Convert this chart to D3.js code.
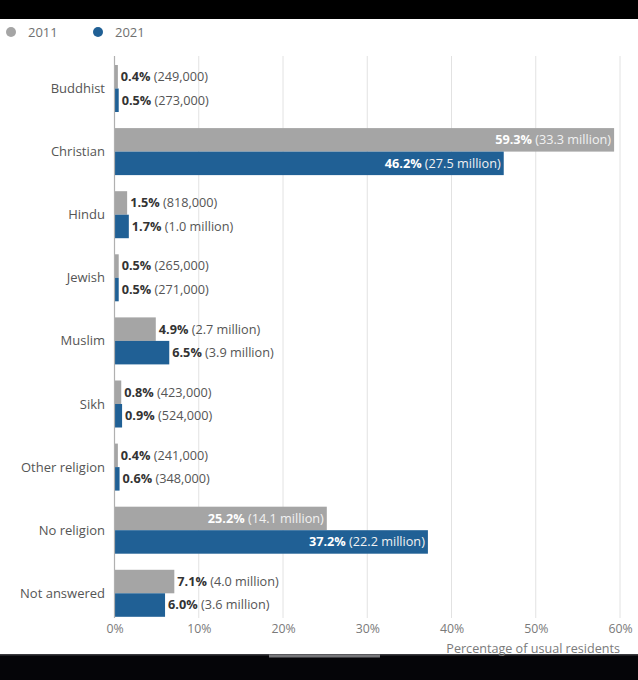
<!DOCTYPE html>
<html><head><meta charset="utf-8">
<script src="https://cdn.jsdelivr.net/npm/d3@7"></script>
<style>
html,body{margin:0;padding:0;background:#fff;}
svg{display:block;font-family:"Open Sans",sans-serif;}
</style></head>
<body>
<svg id="c" width="638" height="680"></svg>
<script>
const categories = ["Buddhist","Christian","Hindu","Jewish","Muslim","Sikh","Other religion","No religion","Not answered"];
const seriesNames = ["2011","2021"];
const values2011 = [0.4,59.3,1.5,0.5,4.9,0.8,0.4,25.2,7.1];
const values2021 = [0.5,46.2,1.7,0.5,6.5,0.9,0.6,37.2,6.0];
const counts2011 = ["249,000","33.3 million","818,000","265,000","2.7 million","423,000","241,000","14.1 million","4.0 million"];
const counts2021 = ["273,000","27.5 million","1.0 million","271,000","3.9 million","524,000","348,000","22.2 million","3.6 million"];
const xTicks = [0,10,20,30,40,50,60];
const colors = ["#a5a5a5","#206095"];

const svg = d3.select("#c");
// frame bands
svg.append("rect").attr("x",0).attr("y",0).attr("width",638).attr("height",19).attr("fill","#000");
svg.append("rect").attr("x",0).attr("y",654).attr("width",638).attr("height",26).attr("fill","#050508");
svg.append("rect").attr("x",0).attr("y",654).attr("width",638).attr("height",1.5).attr("fill","#3a3a3e");
svg.append("rect").attr("x",269).attr("y",654.5).attr("width",111).attr("height",3).attr("fill","#77777a");

// legend
const leg = svg.append("g");
[[11,28],[98,115]].forEach((p,i)=>{
  leg.append("circle").attr("cx",p[0]).attr("cy",32).attr("r",5).attr("fill",colors[i]);
  leg.append("text").attr("x",p[1]).attr("y",32).attr("dy","0.35em").attr("font-size",13).attr("fill","#707070").text(seriesNames[i]);
});

const x = d3.scaleLinear().domain([0,60]).range([114.5,620]);
const y = d3.scaleBand().domain(categories).range([56.8,625]).paddingInner(0.255).paddingOuter(0.13);
const y2 = d3.scaleBand().domain(seriesNames).range([0,y.bandwidth()]);

// grid
svg.append("g").selectAll("line").data(xTicks.slice(1)).join("line")
  .attr("x1",d=>x(d)).attr("x2",d=>x(d)).attr("y1",56).attr("y2",618)
  .attr("stroke","#e2e2e2").attr("stroke-width",1);

// axis
const ax = svg.append("g").attr("transform","translate(0,619)")
  .call(d3.axisBottom(x).tickValues(xTicks).tickFormat(d=>d+"%").tickSize(0).tickPadding(5));
ax.select(".domain").remove();
ax.selectAll("text").attr("font-size",12.3).attr("fill","#7a7a7a").attr("font-family","Open Sans");
svg.append("text").attr("x",620).attr("y",648.5).attr("dy","0.35em").attr("text-anchor","end")
  .attr("font-size",12.6).attr("fill","#7a7a7a").text("Percentage of usual residents");

// category labels
svg.append("g").selectAll("text").data(categories).join("text")
  .attr("x",105).attr("y",d=>y(d)+y.bandwidth()/2).attr("dy","0.35em").attr("text-anchor","end")
  .attr("font-size",13).attr("fill","#555").text(d=>d);

const rows = [];
categories.forEach((c,i)=>{
  rows.push({cat:c,s:"2011",v:values2011[i],n:counts2011[i],col:colors[0]});
  rows.push({cat:c,s:"2021",v:values2021[i],n:counts2021[i],col:colors[1]});
});

svg.append("g").selectAll("rect").data(rows).join("rect")
  .attr("x",x(0)).attr("y",d=>y(d.cat)+y2(d.s)).attr("width",d=>x(d.v)-x(0)).attr("height",y2.bandwidth())
  .attr("fill",d=>d.col);

// axis baseline
svg.append("line").attr("x1",x(0)).attr("x2",x(0)).attr("y1",56).attr("y2",618).attr("stroke","#b0b0b0").attr("stroke-width",1.2);

svg.append("g").selectAll("text").data(rows).join("text")
  .attr("y",d=>y(d.cat)+y2(d.s)+y2.bandwidth()/2).attr("dy","0.35em").attr("font-size",12.7)
  .each(function(d){
    const inside = d.v > 20;
    const t = d3.select(this);
    t.attr("x", inside ? x(d.v)-3 : x(d.v)+3).attr("text-anchor", inside ? "end":"start");
    t.append("tspan").attr("font-weight","bold").attr("fill", inside ? "#fff" : "#333").text(d.v.toFixed(1)+"%");
    t.append("tspan").attr("fill", inside ? "#f2f2f2" : "#555").text(" ("+d.n+")");
  });
</script>
</body></html>
